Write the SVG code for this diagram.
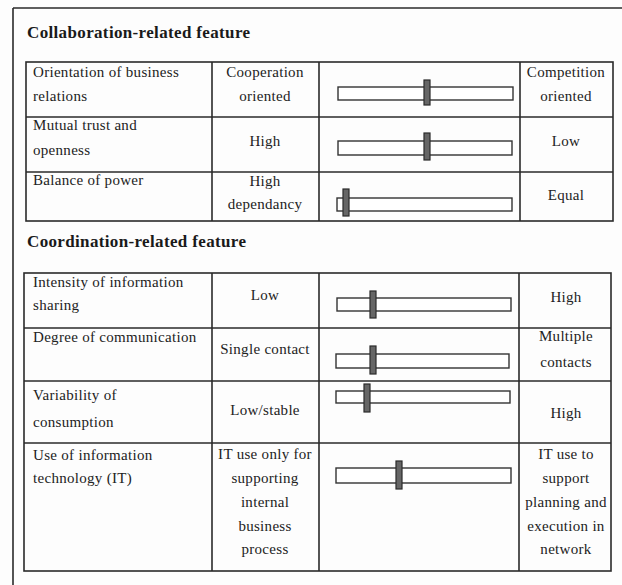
<svg xmlns="http://www.w3.org/2000/svg" width="622" height="585" viewBox="0 0 622 585">
<style>
.ln{stroke:#2a2a2a;stroke-width:1.6;fill:none}
.t{font-family:"Liberation Serif","Times New Roman",serif;font-size:15px;letter-spacing:0.3px;fill:#222}
.c{text-anchor:middle}
.h{font-family:"Liberation Serif","Times New Roman",serif;font-size:17px;letter-spacing:0.35px;font-weight:bold;fill:#1a1a1a}
.bar{fill:#fff;stroke:#333;stroke-width:1.4}
.th{fill:#666;stroke:#2a2a2a;stroke-width:1.2}
</style>
<rect width="622" height="585" fill="#fdfdfd"/>
<g id="frame">
<line class="ln" x1="13" y1="8" x2="622" y2="8"/>
<line class="ln" x1="13" y1="8" x2="13" y2="585"/>
</g>
<g id="title1"><text class="h" x="27" y="38">Collaboration-related feature</text></g>
<g id="table1">
<rect class="ln" x="26" y="62" width="587" height="159"/>
<line class="ln" x1="212" y1="62" x2="212" y2="221"/>
<line class="ln" x1="319" y1="62" x2="319" y2="221"/>
<line class="ln" x1="520" y1="62" x2="520" y2="221"/>
<line class="ln" x1="26" y1="117" x2="613" y2="117"/>
<line class="ln" x1="26" y1="172" x2="613" y2="172"/>
</g>
<g id="row1">
<text class="t" x="33" y="77">Orientation of business</text>
<text class="t" x="33" y="101">relations</text>
<text class="t c" x="265" y="77">Cooperation</text>
<text class="t c" x="265" y="101">oriented</text>
<rect class="bar" x="338" y="87" width="175" height="13"/>
<rect class="th" x="424" y="80" width="6" height="25"/>
<text class="t c" x="566" y="77">Competition</text>
<text class="t c" x="566" y="101">oriented</text>
</g>
<g id="row2">
<text class="t" x="33" y="130">Mutual trust and</text>
<text class="t" x="33" y="155">openness</text>
<text class="t c" x="265" y="146">High</text>
<rect class="bar" x="338" y="141" width="174" height="14"/>
<rect class="th" x="424" y="133" width="6" height="27"/>
<text class="t c" x="566" y="146">Low</text>
</g>
<g id="row3">
<text class="t" x="33" y="185">Balance of power</text>
<text class="t c" x="265" y="186">High</text>
<text class="t c" x="265" y="209">dependancy</text>
<rect class="bar" x="337" y="198" width="175" height="13"/>
<rect class="th" x="343" y="189" width="6" height="27"/>
<text class="t c" x="566" y="200">Equal</text>
</g>
<g id="title2"><text class="h" x="27" y="247">Coordination-related feature</text></g>
<g id="table2">
<rect class="ln" x="24" y="273" width="587" height="298"/>
<line class="ln" x1="212" y1="273" x2="212" y2="571"/>
<line class="ln" x1="319" y1="273" x2="319" y2="571"/>
<line class="ln" x1="519" y1="273" x2="519" y2="571"/>
<line class="ln" x1="24" y1="328" x2="611" y2="328"/>
<line class="ln" x1="24" y1="381" x2="611" y2="381"/>
<line class="ln" x1="24" y1="443" x2="611" y2="443"/>
</g>
<g id="row4">
<text class="t" x="33" y="287">Intensity of information</text>
<text class="t" x="33" y="310">sharing</text>
<text class="t c" x="265" y="300">Low</text>
<rect class="bar" x="337" y="298" width="174" height="13"/>
<rect class="th" x="370" y="291" width="6" height="27"/>
<text class="t c" x="566" y="302">High</text>
</g>
<g id="row5">
<text class="t" x="33" y="342">Degree of communication</text>
<text class="t c" x="265" y="354">Single contact</text>
<rect class="bar" x="336" y="354" width="173" height="14"/>
<rect class="th" x="370" y="346" width="6" height="28"/>
<text class="t c" x="566" y="341">Multiple</text>
<text class="t c" x="566" y="367">contacts</text>
</g>
<g id="row6">
<text class="t" x="33" y="400">Variability of</text>
<text class="t" x="33" y="427">consumption</text>
<text class="t c" x="265" y="415">Low/stable</text>
<rect class="bar" x="336" y="391" width="174" height="12"/>
<rect class="th" x="364" y="384" width="6" height="28"/>
<text class="t c" x="566" y="418">High</text>
</g>
<g id="row7">
<text class="t" x="33" y="460">Use of information</text>
<text class="t" x="33" y="483">technology (IT)</text>
<text class="t c" x="265" y="459">IT use only for</text>
<text class="t c" x="265" y="483">supporting</text>
<text class="t c" x="265" y="507">internal</text>
<text class="t c" x="265" y="531">business</text>
<text class="t c" x="265" y="554">process</text>
<rect class="bar" x="336" y="468" width="175" height="15"/>
<rect class="th" x="396" y="461" width="6" height="28"/>
<text class="t c" x="566" y="459">IT use to</text>
<text class="t c" x="566" y="483">support</text>
<text class="t c" x="566" y="507">planning and</text>
<text class="t c" x="566" y="531">execution in</text>
<text class="t c" x="566" y="554">network</text>
</g>
</svg>
